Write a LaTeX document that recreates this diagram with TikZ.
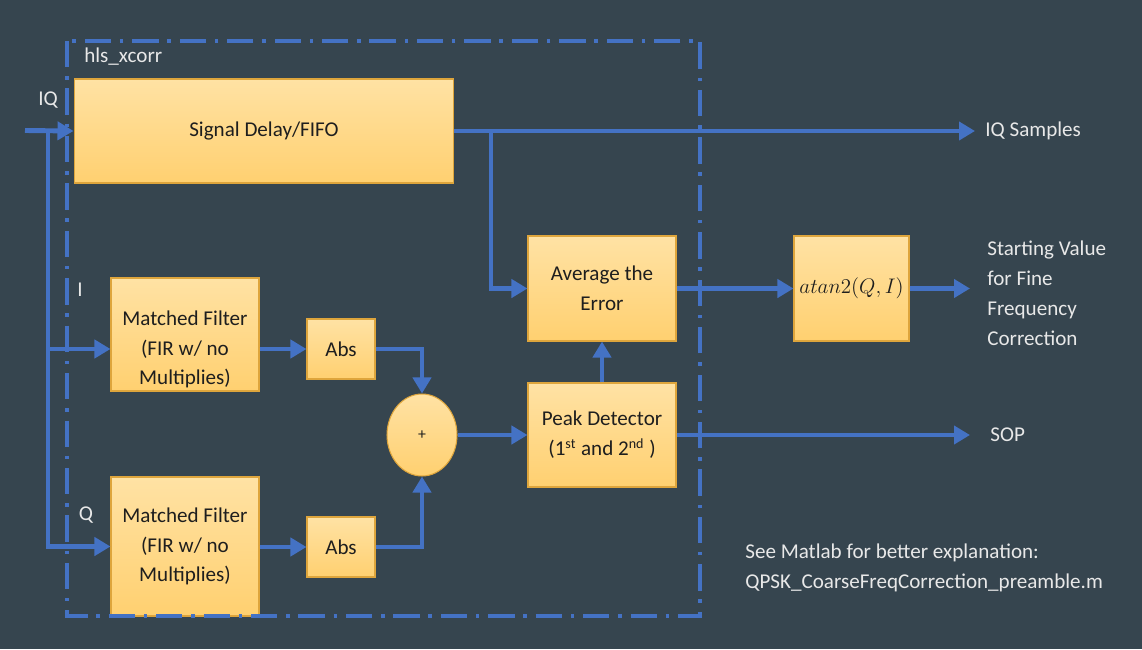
\documentclass[tikz,border=0pt]{standalone}
\usepackage{fontspec}
\setmainfont{Carlito}
\usetikzlibrary{arrows.meta,shapes.geometric,positioning}

\definecolor{slate}{RGB}{54,69,79}
\definecolor{wireblue}{RGB}{68,114,196}
\definecolor{boxtop}{RGB}{255,226,164}
\definecolor{boxbot}{RGB}{255,208,112}
\definecolor{boxline}{RGB}{222,165,60}
\definecolor{ink}{RGB}{30,30,30}
\definecolor{paper}{RGB}{232,232,232}

\tikzset{
    block/.style={rectangle, draw=boxline, line width=0.6pt, top color=boxtop,
        bottom color=boxbot, text=ink, align=center, inner sep=0pt,
        font=\fontsize{12}{17}\selectfont},
    blocktext/.style={text=ink, align=center, inner sep=0pt,
        font=\fontsize{12}{17}\selectfont},
    tag/.style={text=paper, inner sep=0pt, font=\fontsize{12}{17}\selectfont},
    wire/.style={draw=wireblue, line width=2.8pt,
        -{Triangle[length=0.32cm,width=0.36cm]}},
    bus/.style={draw=wireblue, line width=2.8pt},
    frame/.style={draw=wireblue, line width=2.2pt,
        dash pattern=on 15pt off 5pt on 2pt off 5pt},
}

\begin{document}
\begin{tikzpicture}[x=0.02cm, y=-0.02cm]

    % Background
    \fill[slate] (0,0) rectangle (1142,649);
    \useasboundingbox (0,0) rectangle (1142,649);

    % Blocks
    \node[block, minimum width=7.6cm, minimum height=2.08cm] (fifo) at (264,131) {Signal Delay/FIFO};
    \node[block, minimum width=2.96cm, minimum height=2.26cm,
          label={[blocktext, yshift=-0.3cm]center:{Matched Filter\\(FIR w/ no\\Multiplies)}}] (mfI) at (185,334.5) {};
    \node[block, minimum width=2.96cm, minimum height=2.78cm] (mfQ) at (185,546.5) {Matched Filter\\(FIR w/ no\\Multiplies)};
    \node[block, minimum width=1.36cm, minimum height=1.2cm] (absI) at (341,349) {Abs};
    \node[block, minimum width=1.36cm, minimum height=1.2cm] (absQ) at (341,547) {Abs};
    \node[block, ellipse, minimum width=1.4cm, minimum height=1.64cm,
          font=\fontsize{9}{11}\selectfont] (sum) at (422,435) {+};
    \node[block, minimum width=2.96cm, minimum height=2.1cm] (avg) at (602,288.5) {Average the\\Error};
    \node[block, minimum width=2.96cm, minimum height=2.08cm] (peak) at (602,435) {Peak Detector\\(1\textsuperscript{st} and 2\textsuperscript{nd} )};
    \node[block, minimum width=2.3cm, minimum height=2.1cm,
          font=\fontsize{12.5}{17}\selectfont] (atan) at (851.5,288.5) {$atan2(Q,I)$};

    % hls_xcorr boundary
    \draw[frame] (67,41) rectangle (700,616);

    % Labels
    \node[tag, anchor=west] (core) at (84,57) {hls\_xcorr};
    \node[tag] (iqlbl) at (48,100) {IQ};
    \node[tag] (ilbl) at (80,290) {I};
    \node[tag] (qlbl) at (86,515) {Q};
    \node[tag, anchor=west] (iqs) at (985,131) {IQ Samples};
    \node[tag, anchor=west, align=left] (fine) at (987,293.5) {Starting Value\\for Fine\\Frequency\\Correction};
    \node[tag, anchor=west] (sop) at (990,435) {SOP};
    \node[tag, anchor=west, align=left] (note) at (745,568) {See Matlab for better explanation:\\QPSK\_CoarseFreqCorrection\_preamble.m};

    % Input and split points
    \coordinate (iqin) at (25,130.5);
    \coordinate (split) at (48,130.5);
    \coordinate (tap) at (491,131);

    % Connectors
    \draw[wire] (iqin) -- (fifo.west);
    \draw[wire] (split) |- (mfI.west |- absI);
    \draw[wire] (split) |- (mfQ.west);
    \draw[wire] (mfI.east |- absI) -- (absI.west);
    \draw[wire] (mfQ.east |- absQ) -- (absQ.west);
    \draw[wire] (absI.east) -| (sum.north);
    \draw[wire] (absQ.east) -| (sum.south);
    \draw[wire] (sum.east) -- (peak.west);
    \draw[wire] (peak.north) -- (avg.south);
    \draw[wire, shorten >=0.2cm] (fifo.east) -- (iqs.west);
    \draw[wire] (tap) |- (avg.west);
    \draw[wire] (avg.east) -- (atan.west);
    \draw[wire, shorten >=0.34cm] (atan.east) -- (atan.east -| fine.west);
    \draw[wire, shorten >=0.4cm] (peak.east) -- (sop.west);

\end{tikzpicture}
\end{document}
